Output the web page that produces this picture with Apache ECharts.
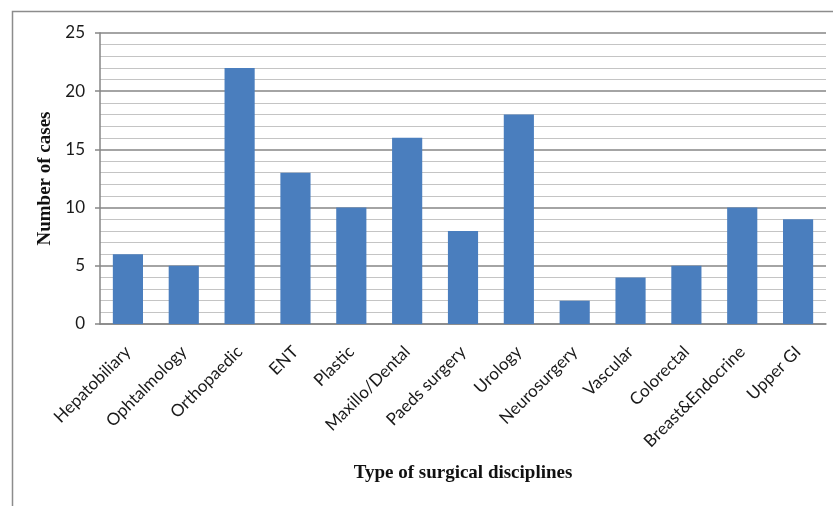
<!DOCTYPE html>
<html>
<head>
<meta charset="utf-8">
<script src="https://cdn.jsdelivr.net/npm/echarts@6/dist/echarts.min.js"></script>
<style>
  html, body { margin: 0; padding: 0; background: #fff; }
  #chart { width: 833px; height: 506px; }
</style>
</head>
<body>
<div id="chart"></div>
<script>
// Surgical disciplines and case counts
const categories = ['Hepatobiliary', 'Ophtalmology', 'Orthopaedic', 'ENT', 'Plastic', 'Maxillo/Dental',
  'Paeds surgery', 'Urology', 'Neurosurgery', 'Vascular', 'Colorectal', 'Breast&Endocrine', 'Upper GI'];
const cases = [6, 5, 22, 13, 10, 16, 8, 18, 2, 4, 5, 10, 9];
const yMin = 0;
const yMax = 25;
const yStep = 5;

const chart = echarts.init(document.getElementById('chart'), null, { renderer: 'canvas' });

chart.setOption({
  animation: false,
  backgroundColor: '#ffffff',
  grid: { left: 100, right: 7, top: 33, bottom: 182 },
  graphic: [{
    type: 'polyline',
    shape: { points: [[12.5, 506], [12.5, 11.5], [833, 11.5]] },
    style: { stroke: '#8c8c8c', lineWidth: 1.5, fill: null },
    silent: true
  }],
  xAxis: {
    type: 'category',
    data: categories,
    name: 'Type of surgical disciplines',
    nameLocation: 'middle',
    nameGap: 140,
    nameTextStyle: { fontFamily: 'Liberation Serif', fontWeight: 'bold', fontSize: 19, color: '#111' },
    axisLine: { show: true, lineStyle: { color: '#868686', width: 1.5 } },
    axisTick: { show: false },
    axisLabel: {
      rotate: 45, interval: 0, margin: 25,
      fontFamily: 'Lato', fontSize: 17, color: '#1a1a1a'
    },
    splitLine: { show: false }
  },
  yAxis: {
    type: 'value',
    min: yMin, max: yMax, interval: yStep,
    name: 'Number of cases',
    nameLocation: 'middle',
    nameGap: 44,
    nameRotate: 90,
    nameTextStyle: { fontFamily: 'Liberation Serif', fontWeight: 'bold', fontSize: 19, color: '#111' },
    axisLine: { show: true, lineStyle: { color: '#868686', width: 1.5 } },
    axisTick: { show: true, length: 5, lineStyle: { color: '#868686', width: 1.5 } },
    axisLabel: { margin: 15, fontFamily: 'Lato', fontSize: 17, color: '#1a1a1a' },
    splitLine: { show: true, lineStyle: { color: '#868686', width: 1.5 } },
    minorTick: { show: false, splitNumber: 5 },
    minorSplitLine: { show: true, lineStyle: { color: '#c4c4c4', width: 1.2 } }
  },
  series: [{
    type: 'bar',
    data: cases,
    barCategoryGap: '46%',
    itemStyle: { color: '#4A7EBE' }
  }]
});
</script>
</body>
</html>
